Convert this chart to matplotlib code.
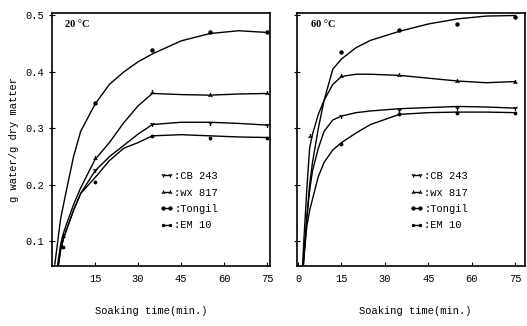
import matplotlib
matplotlib.use("Agg")
import matplotlib.pyplot as plt
import numpy as np
from matplotlib.lines import Line2D

plt.rcParams["font.family"] = ["Liberation Mono", "DejaVu Sans Mono"]

varieties = ["CB 243", "wx 817", "Tongil", "EM 10"]
markers = ["1", "2", "o", "."]
marker_sizes = [3.5, 3.5, 2.2, 3.5]

# measured points (min.); nan = no point drawn
sample_t = [4, 15, 35, 55, 75]
cb243_20 = [np.nan, 0.227, 0.308, 0.309, 0.306]
wx817_20 = [0.110, 0.247, 0.365, 0.359, 0.362]
tongil_20 = [np.nan, 0.345, 0.439, 0.470, 0.470]
em10_20 = [0.091, 0.206, 0.287, 0.284, 0.284]

cb243_60 = [np.nan, 0.322, 0.333, 0.337, 0.336]
wx817_60 = [0.286, 0.393, 0.395, 0.384, 0.383]
tongil_60 = [np.nan, 0.435, 0.474, 0.485, 0.498]
em10_60 = [np.nan, 0.273, 0.325, 0.327, 0.327]

# hand-drawn fitted curves
fit_t_20 = [1, 2, 3, 4, 5, 7.5, 10, 15, 20, 25, 30, 35, 45, 55, 65, 75]
fit_cb243_20 = [0.0, 0.05, 0.085, 0.105, 0.12, 0.155, 0.185, 0.225, 0.25, 0.27, 0.29, 0.307, 0.311, 0.311, 0.309, 0.306]
fit_wx817_20 = [0.02, 0.06, 0.095, 0.115, 0.13, 0.165, 0.195, 0.245, 0.275, 0.31, 0.34, 0.362, 0.360, 0.359, 0.361, 0.362]
fit_tongil_20 = [0.06, 0.10, 0.14, 0.165, 0.19, 0.25, 0.295, 0.343, 0.378, 0.400, 0.418, 0.432, 0.455, 0.468, 0.473, 0.470]
fit_em10_20 = [0.0, 0.05, 0.085, 0.105, 0.12, 0.155, 0.185, 0.213, 0.243, 0.265, 0.275, 0.287, 0.289, 0.287, 0.285, 0.284]

fit_t_60 = [1, 2, 3, 4, 5, 7, 9, 12, 15, 20, 25, 35, 45, 55, 65, 75]
fit_cb243_60 = [0.0, 0.07, 0.14, 0.19, 0.225, 0.265, 0.295, 0.315, 0.322, 0.328, 0.331, 0.335, 0.337, 0.339, 0.338, 0.336]
fit_wx817_60 = [0.0, 0.10, 0.19, 0.265, 0.29, 0.325, 0.35, 0.378, 0.392, 0.396, 0.396, 0.394, 0.389, 0.384, 0.381, 0.383]
fit_tongil_60 = [0.0, 0.07, 0.14, 0.20, 0.24, 0.30, 0.35, 0.405, 0.423, 0.443, 0.456, 0.472, 0.485, 0.494, 0.499, 0.500]
fit_em10_60 = [0.0, 0.07, 0.125, 0.155, 0.175, 0.215, 0.24, 0.262, 0.275, 0.292, 0.307, 0.325, 0.328, 0.329, 0.329, 0.328]

panels = [
    ("20 \u00b0C", fit_t_20,
     [fit_cb243_20, fit_wx817_20, fit_tongil_20, fit_em10_20],
     [cb243_20, wx817_20, tongil_20, em10_20],
     [15, 30, 45, 60, 75], (0, 76)),
    ("60 \u00b0C", fit_t_60,
     [fit_cb243_60, fit_wx817_60, fit_tongil_60, fit_em10_60],
     [cb243_60, wx817_60, tongil_60, em10_60],
     [0, 15, 30, 45, 60, 75], (-0.35, 78.3)),
]

fig = plt.figure(figsize=(5.27, 3.26), dpi=100)
ax_left = fig.add_axes([52 / 527, 1 - 266 / 326, 218 / 527, 253 / 326])
ax_right = fig.add_axes([297 / 527, 1 - 266 / 326, 228 / 527, 253 / 326])

for ax, (title, fit_t, fits, pts, xticks, xlim) in zip([ax_left, ax_right], panels):
    for fit, p, m, ms in zip(fits, pts, markers, marker_sizes):
        ax.plot(fit_t, fit, color="black", linewidth=1.0)
        ax.plot(sample_t, p, linestyle="none", marker=m, color="black",
                markersize=ms, markeredgewidth=1.0)
    ax.set_xlim(*xlim)
    ax.set_ylim(0.0566, 0.5044)
    ax.set_xticks(xticks)
    ax.set_yticks([0.1, 0.2, 0.3, 0.4, 0.5])
    ax.tick_params(axis="x", direction="in", length=3, labelsize=7.5, pad=6)
    ax.tick_params(axis="y", direction="inout", length=4, labelsize=7.5)
    for s in ax.spines.values():
        s.set_linewidth(1.2)
    ax.text(0.06, 0.955, title, transform=ax.transAxes, fontsize=7.5,
            ha="left", va="center", family="Liberation Serif", fontweight="bold")

    handles = [Line2D([0], [0], color="black", linewidth=1.0, marker=m,
                      markersize=min(ms, 3), markeredgewidth=0.9)
               for m, ms in zip(markers, marker_sizes)]
    ax.legend(handles, [":" + v for v in varieties], loc="upper left",
              bbox_to_anchor=(0.495, 0.375), frameon=False, fontsize=7.5,
              handlelength=1.3, handletextpad=0.1, labelspacing=0.62,
              borderpad=0, borderaxespad=0, numpoints=2)
    ax.set_xlabel("Soaking time(min.)", fontsize=7.5)

ax_left.set_yticklabels(["0.1", "0.2", "0.3", "0.4", "0.5"])
ax_left.set_ylabel("g water/g dry matter", fontsize=7.5)
ax_left.yaxis.set_label_coords(-0.15, 0.5)
ax_right.set_yticklabels([])
ax_left.xaxis.set_label_coords(0.454, -0.16)
ax_right.xaxis.set_label_coords(0.518, -0.16)

plt.savefig("out.png", dpi=100)
plt.close()
